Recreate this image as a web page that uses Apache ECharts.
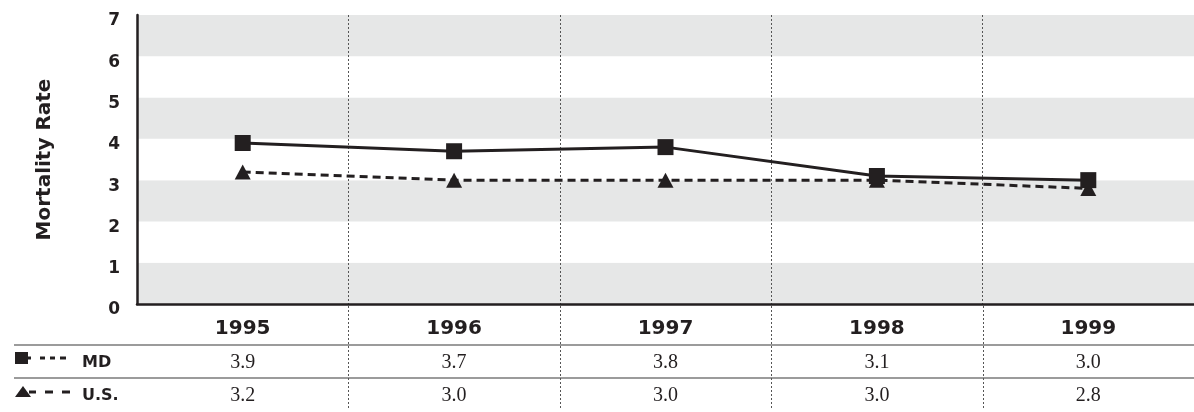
<!DOCTYPE html>
<html>
<head>
<meta charset="utf-8">
<script src="https://cdn.jsdelivr.net/npm/echarts@6/dist/echarts.min.js"></script>
<style>
html,body{margin:0;padding:0;background:#fff;}
#chart{width:1194px;height:412px;}
</style>
</head>
<body>
<div id="chart"></div>
<script>
const years = ['1995', '1996', '1997', '1998', '1999'];
const mdValues = [3.9, 3.7, 3.8, 3.1, 3.0];
const usValues = [3.2, 3.0, 3.0, 3.0, 2.8];
const yTicks = [0, 1, 2, 3, 4, 5, 6, 7];
const seriesNames = ['MD', 'U.S.'];
const yTitle = 'Mortality Rate';

const INK = '#231f20';
const SANS = "'DejaVu Sans', sans-serif";
const SERIF = "'Liberation Serif', serif";

const chart = echarts.init(document.getElementById('chart'), null, {renderer: 'canvas'});

function rowAxis(values, offset) {
  return {
    type: 'category', data: years, position: 'bottom', offset: offset,
    boundaryGap: true,
    axisLine: {show: false}, axisTick: {show: false}, splitLine: {show: false},
    axisLabel: {
      margin: 8, interval: 0, fontFamily: SERIF, fontSize: 20, color: INK,
      formatter: (v, i) => values[i].toFixed(1)
    }
  };
}

const option = {
  animation: false,
  grid: {left: 137, right: 0, top: 15, bottom: 108, containLabel: false},
  xAxis: [
    {
      type: 'category', data: years, position: 'bottom', boundaryGap: true,
      axisLine: {show: true, lineStyle: {color: INK, width: 2.5}},
      axisTick: {show: false},
      splitLine: {show: true, lineStyle: {color: '#555', width: 1, type: [2, 2]}},
      axisLabel: {margin: 15, interval: 0, fontFamily: SANS, fontWeight: 'bold', fontSize: 20, color: INK}
    },
    rowAxis(mdValues, 41),
    rowAxis(usValues, 74)
  ],
  yAxis: {
    type: 'value', min: yTicks[0], max: yTicks[yTicks.length - 1], interval: 1,
    name: yTitle, nameLocation: 'middle', nameGap: 82,
    nameTextStyle: {fontFamily: SANS, fontWeight: 'bold', fontSize: 20, color: INK},
    axisLine: {show: true, lineStyle: {color: INK, width: 2.5}},
    axisTick: {show: false},
    splitLine: {show: false},
    splitArea: {show: true, areaStyle: {color: ['#e6e7e7', '#ffffff']}},
    axisLabel: {margin: 17, verticalAlign: 'top', lineHeight: 12, fontFamily: SANS, fontWeight: 'bold', fontSize: 17, color: INK}
  },
  series: [
    {
      name: seriesNames[0], type: 'line', data: mdValues, z: 3,
      symbol: 'rect', symbolSize: 16,
      itemStyle: {color: INK},
      lineStyle: {color: INK, width: 3, type: 'solid'}
    },
    {
      name: seriesNames[1], type: 'line', data: usValues, z: 2,
      symbol: 'triangle', symbolSize: [16, 15],
      itemStyle: {color: INK},
      lineStyle: {color: INK, width: 3, type: [8, 5]}
    }
  ]
};
chart.setOption(option);

// table decorations: row rules, dotted column separators continuing below plot, legend keys
const g = [];
g.push({type: 'line', shape: {x1: 14, y1: 345, x2: 1194, y2: 345}, style: {stroke: '#7a7a7a', lineWidth: 1.5}});
g.push({type: 'line', shape: {x1: 14, y1: 378, x2: 1194, y2: 378}, style: {stroke: '#7a7a7a', lineWidth: 1.5}});
for (let i = 0; i < years.length - 1; i++) {
  const a = chart.convertToPixel({xAxisIndex: 0}, years[i]);
  const b = chart.convertToPixel({xAxisIndex: 0}, years[i + 1]);
  const x = Math.round((a + b) / 2) + 0.5;
  g.push({type: 'line', shape: {x1: x, y1: 306, x2: x, y2: 408}, style: {stroke: '#555', lineWidth: 1, lineDash: [2, 2]}});
}
// MD key: square + dotted line
g.push({type: 'rect', shape: {x: 15, y: 352, width: 13, height: 12}, style: {fill: INK}});
[[28, 31], [40, 45], [50, 55], [60, 66]].forEach(s => g.push({type: 'line', shape: {x1: s[0], y1: 358, x2: s[1], y2: 358}, style: {stroke: INK, lineWidth: 3}}));
// US key: triangle + dashed line
g.push({type: 'polygon', shape: {points: [[15, 397], [23, 386], [31, 397]]}, style: {fill: INK}});
[[29, 36], [45, 53], [62, 70]].forEach(s => g.push({type: 'line', shape: {x1: s[0], y1: 392, x2: s[1], y2: 392}, style: {stroke: INK, lineWidth: 3}}));
g.push({type: 'text', x: 82, y: 363, style: {text: seriesNames[0], fontFamily: SANS, fontWeight: 'bold', fontSize: 16, fill: INK, verticalAlign: 'middle'}});
g.push({type: 'text', x: 82, y: 396, style: {text: seriesNames[1], fontFamily: SANS, fontWeight: 'bold', fontSize: 16, fill: INK, verticalAlign: 'middle'}});
chart.setOption({graphic: g});
</script>
</body>
</html>
